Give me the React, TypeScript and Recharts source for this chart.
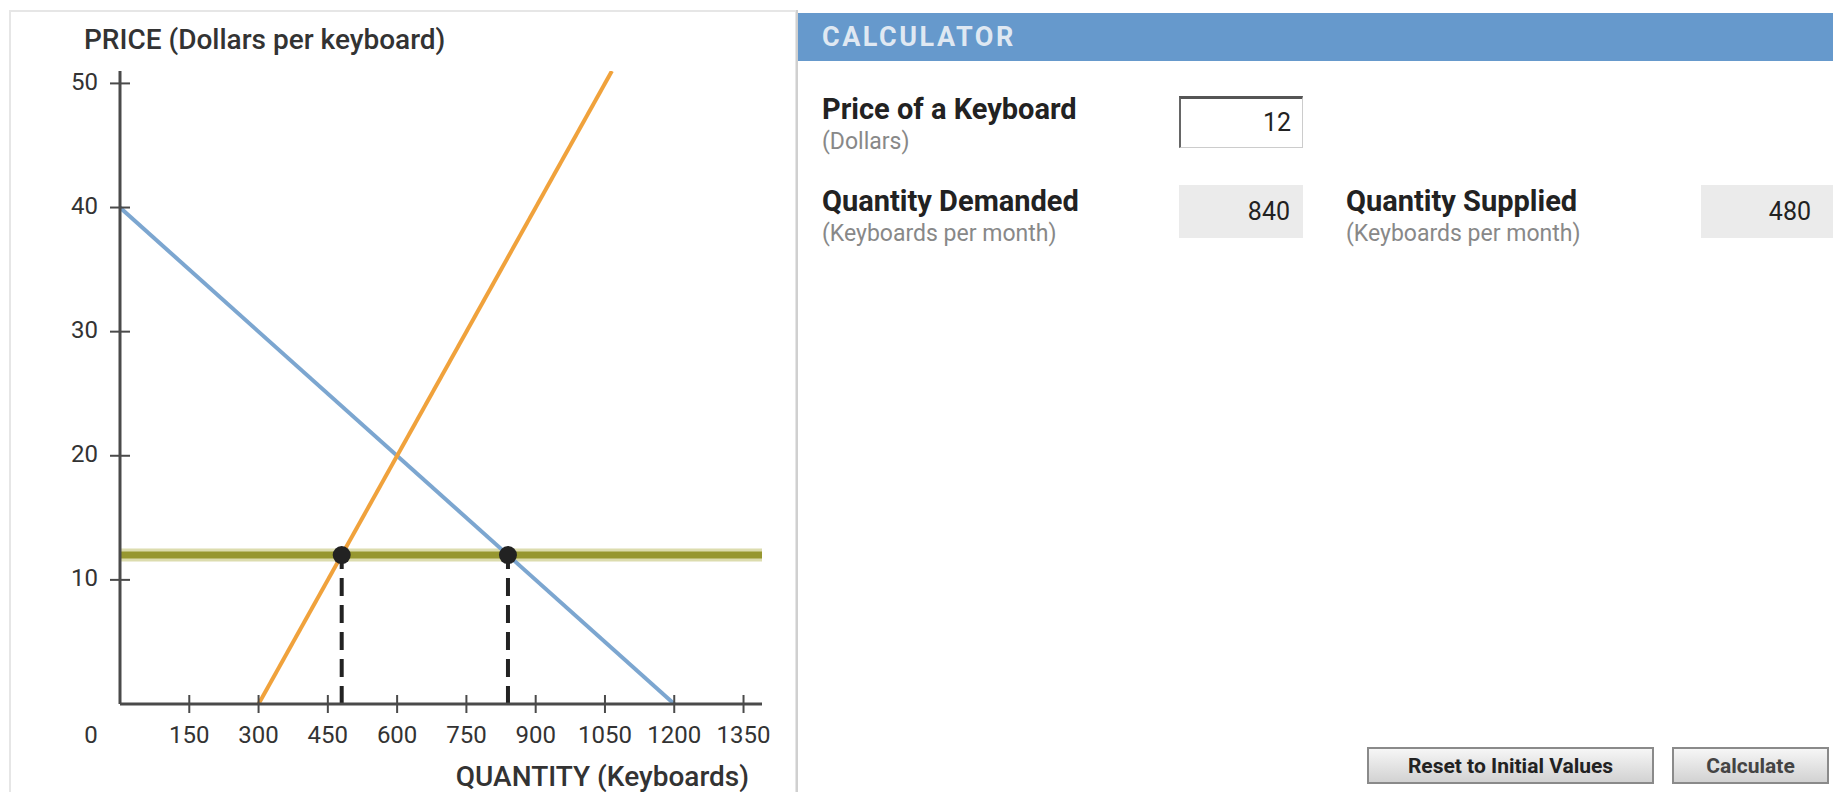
import { ComposedChart, Line, XAxis, YAxis, ReferenceLine, Scatter } from 'recharts';

// quantity (keyboards) vs price (dollars)
const demand = [
    { q: 0, p: 40 },
    { q: 1200, p: 0 }
];
const supply = [
    { q: 300, p: 0 },
    { q: 1065, p: 51 }
];
const price = 12;
const qDemanded = 840;
const qSupplied = 480;
const equilibriumDots = [
    { q: qSupplied, p: price },
    { q: qDemanded, p: price }
];
const xTicks = [0, 150, 300, 450, 600, 750, 900, 1050, 1200, 1350];
const yTicks = [10, 20, 30, 40, 50];

const FONT = 'Roboto, "DejaVu Sans", sans-serif';
const AXIS = '#4a4a4a';

const XTick = (props: any) => {
    const { x, y, payload } = props;
    if (payload.value === 0) {
        return (
            <text x={x - 29} y={y + 33} textAnchor="middle" dominantBaseline="middle" fontSize={24} fill="#333" fontFamily={FONT}>
                0
            </text>
        );
    }
    return (
        <g>
            <line x1={x} x2={x} y1={y - 9} y2={y + 9} stroke={AXIS} strokeWidth={2} />
            <text x={x} y={y + 33} textAnchor="middle" dominantBaseline="middle" fontSize={24} fill="#333" fontFamily={FONT}>
                {payload.value}
            </text>
        </g>
    );
};

const YTick = (props: any) => {
    const { x, y, payload } = props;
    return (
        <g>
            <line x1={x - 10} x2={x + 10} y1={y} y2={y} stroke={AXIS} strokeWidth={2} />
            <text x={x - 22} y={y} textAnchor="end" dominantBaseline="middle" fontSize={24} fill="#333" fontFamily={FONT}>
                {payload.value}
            </text>
        </g>
    );
};

const labelStyle: React.CSSProperties = {
    position: 'absolute',
    fontFamily: FONT,
    whiteSpace: 'nowrap',
    lineHeight: 1
};

const Field = ({ left, top, title, sub }: { left: number; top: number; title: string; sub: string }) => (
    <>
        <div style={{ ...labelStyle, left, top: top - 15, fontSize: 29, fontWeight: 700, color: '#222' }}>{title}</div>
        <div style={{ ...labelStyle, left, top: top + 20, fontSize: 23, color: '#888' }}>{sub}</div>
    </>
);

const buttonStyle: React.CSSProperties = {
    position: 'absolute',
    top: 747,
    height: 37,
    boxSizing: 'border-box',
    border: '2px solid #8a8a8a',
    background: 'linear-gradient(#f6f6f6, #d2d2d2)',
    fontFamily: FONT,
    fontWeight: 700,
    fontSize: 21,
    color: '#444',
    display: 'flex',
    alignItems: 'center',
    justifyContent: 'center'
};

export default function App() {
    return (
        <div style={{ position: 'relative', width: 1833, height: 792, overflow: 'hidden', background: '#fff' }}>
            <style>{'body{margin:0}'}</style>
            {/* left panel frame */}
            <div style={{ position: 'absolute', left: 9, top: 10, width: 788, height: 800, border: '2px solid #e6e6e6', boxSizing: 'border-box' }} />

            <div style={{ position: 'absolute', left: 0, top: 0 }}>
                <ComposedChart width={800} height={792} margin={{ top: 71, right: 38, bottom: 0, left: 0 }}>
                    <XAxis
                        dataKey="q"
                        type="number"
                        domain={[0, 1390]}
                        ticks={xTicks}
                        interval={0}
                        tick={<XTick />}
                        tickLine={false}
                        tickSize={0}
                        tickMargin={0}
                        height={88}
                        axisLine={{ stroke: AXIS, strokeWidth: 3 }}
                        allowDataOverflow
                    />
                    <YAxis
                        type="number"
                        domain={[0, 51]}
                        ticks={yTicks}
                        interval={0}
                        tick={<YTick />}
                        tickLine={false}
                        tickSize={0}
                        tickMargin={0}
                        width={120}
                        axisLine={{ stroke: AXIS, strokeWidth: 3 }}
                        allowDataOverflow
                    />
                    <ReferenceLine y={price} stroke="#dcdcae" strokeWidth={13} />
                    <ReferenceLine y={price} stroke="#979730" strokeWidth={7} />
                    <Line data={demand} dataKey="p" stroke="#7ca6d0" strokeWidth={4} dot={false} isAnimationActive={false} />
                    <Line data={supply} dataKey="p" stroke="#f0a23c" strokeWidth={4} dot={false} isAnimationActive={false} />
                    <ReferenceLine segment={[{ x: qSupplied, y: 0 }, { x: qSupplied, y: price }]} stroke="#222" strokeWidth={4} strokeDasharray="18 9" />
                    <ReferenceLine segment={[{ x: qDemanded, y: 0 }, { x: qDemanded, y: price }]} stroke="#222" strokeWidth={4} strokeDasharray="18 9" />
                    <Scatter
                        data={equilibriumDots}
                        dataKey="p"
                        fill="#222"
                        isAnimationActive={false}
                        shape={(p: any) => <circle cx={p.cx} cy={p.cy} r={9} fill="#222" />}
                    />
                </ComposedChart>
            </div>

            <div style={{ ...labelStyle, left: 84, top: 26, fontSize: 28, fontWeight: 500, color: '#333' }}>PRICE (Dollars per keyboard)</div>
            <div style={{ ...labelStyle, right: 1833 - 749, top: 763, fontSize: 28, fontWeight: 500, color: '#333' }}>QUANTITY (Keyboards)</div>

            {/* calculator panel */}
            <div style={{ position: 'absolute', left: 796, top: 10, width: 2, height: 790, background: '#d0d0d0' }} />
            <div style={{ position: 'absolute', left: 798, top: 13, width: 1035, height: 48, background: '#6699cc' }} />
            <div style={{ ...labelStyle, left: 822, top: 24, fontSize: 27, fontWeight: 700, color: '#dfe8f2', letterSpacing: 2.5 }}>CALCULATOR</div>

            <Field left={822} top={110} title="Price of a Keyboard" sub="(Dollars)" />
            <div
                style={{
                    position: 'absolute',
                    left: 1179,
                    top: 96,
                    width: 124,
                    height: 52,
                    boxSizing: 'border-box',
                    borderTop: '3px solid #555',
                    borderLeft: '2px solid #666',
                    borderRight: '1px solid #ccc',
                    borderBottom: '1px solid #ccc',
                    background: '#fff'
                }}
            />
            <div style={{ ...labelStyle, right: 1833 - 1291, top: 110, fontSize: 25, color: '#222' }}>{price}</div>

            <Field left={822} top={202} title="Quantity Demanded" sub="(Keyboards per month)" />
            <div style={{ position: 'absolute', left: 1179, top: 185, width: 124, height: 53, background: '#ebebeb' }} />
            <div style={{ ...labelStyle, right: 1833 - 1290, top: 199, fontSize: 25, color: '#222' }}>{qDemanded}</div>

            <Field left={1346} top={202} title="Quantity Supplied" sub="(Keyboards per month)" />
            <div style={{ position: 'absolute', left: 1701, top: 185, width: 140, height: 53, background: '#ebebeb' }} />
            <div style={{ ...labelStyle, right: 1833 - 1811, top: 199, fontSize: 25, color: '#222' }}>{qSupplied}</div>

            <div style={{ ...buttonStyle, left: 1367, width: 287, color: '#222' }}>Reset to Initial Values</div>
            <div style={{ ...buttonStyle, left: 1672, width: 157 }}>Calculate</div>
        </div>
    );
}
